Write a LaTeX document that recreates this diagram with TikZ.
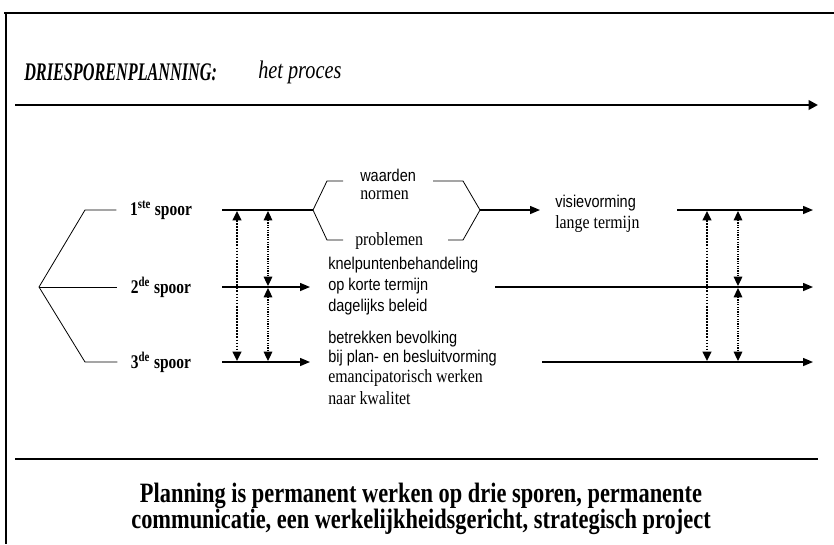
\documentclass[tikz,border=0pt]{standalone}
\usepackage{fontspec}
\setmainfont{Liberation Serif}
\newfontfamily\sansfont[FakeStretch=0.85]{Liberation Sans}
\newfontfamily\condfont[FakeStretch=0.8]{Liberation Serif}
\newfontfamily\narrowfont[FakeStretch=0.85]{Liberation Serif}
\newfontfamily\titlefont[FakeStretch=0.64]{Liberation Serif}
\usetikzlibrary{arrows.meta,positioning,calc}

\tikzset{
    titletext/.style={font=\titlefont\bfseries\itshape\fontsize{19}{22}\selectfont, inner sep=0pt, anchor=west},
    subtitle/.style={font=\condfont\itshape\fontsize{19}{22}\selectfont, inner sep=0pt, anchor=west},
    spoorlabel/.style={font=\condfont\bfseries\fontsize{14.5}{16}\selectfont, inner xsep=10pt, inner ysep=0pt},
    sanstext/.style={font=\sansfont\fontsize{12.8}{15}\selectfont, inner sep=0pt, anchor=west},
    seriftext/.style={font=\narrowfont\fontsize{14}{16}\selectfont, inner sep=0pt, anchor=west},
    summary/.style={font=\condfont\bfseries\fontsize{21}{20}\selectfont, align=center, inner sep=0pt},
    track/.style={line width=1.1pt},
    trackarrow/.style={track, -{Triangle[length=7.5pt,width=6pt]}},
    thinline/.style={line width=0.6pt},
    linkthick/.style={line width=1.3pt, densely dotted, {Triangle[length=7pt,width=6.5pt]}-{Triangle[length=7pt,width=6.5pt]}},
    linkthin/.style={line width=0.8pt, densely dotted, {Triangle[length=7pt,width=6.5pt]}-{Triangle[length=7pt,width=6.5pt]}}
}

\begin{document}
\begin{tikzpicture}[x=0.75pt, y=-0.75pt]
    \useasboundingbox (0,0) rectangle (834,544);

    % Frame
    \draw[line width=2.2pt] (4,13) -- (834,13);
    \draw[line width=1.4pt] (6,13) -- (6,544);

    % Title and time line
    \node[titletext] (title) at (24,72) {DRIESPORENPLANNING:};
    \node[subtitle] (proces) at (258,72) {het proces};
    \coordinate (tstart) at (15,105);
    \coordinate (tend) at (818,105);
    \draw[line width=1.8pt, -{Triangle[length=7pt,width=7pt]}] (tstart) -- (tend);

    % Three tracks
    \coordinate (apex) at (39,287);
    \node[spoorlabel] (s1) at (161,210) {1\textsuperscript{ste} spoor};
    \node[spoorlabel] (s2) at (161,287) {2\textsuperscript{de} spoor};
    \node[spoorlabel] (s3) at (161,362) {3\textsuperscript{de} spoor};
    \draw[thinline] (apex) -- (85,210) -- (s1.west);
    \draw[thinline] (apex) -- (s2.west);
    \draw[thinline] (apex) -- (85,362) -- (s3.west);

    \coordinate (t1a) at (222,210);
    \coordinate (t2a) at (222,287);
    \coordinate (t3a) at (222,362);
    \coordinate (t2b) at (310,287);
    \coordinate (t3b) at (310,362);

    % Track 1: values, norms, problems
    \coordinate (bl) at (313,210);
    \coordinate (br) at (480,210);
    \node[sanstext] (waarden) at (360,175) {waarden};
    \node[seriftext] (normen) at (360,195) {normen};
    \node[seriftext] (problemen) at (355,241) {problemen};
    \draw[track] (t1a) -- (bl);
    \draw[thinline] (343,181) -- (327,181) -- (bl) -- (327,240) -- (343,240);
    \draw[thinline] (433,181) -- (463,181) -- (br) -- (463,240) -- (448,240);
    \coordinate (visiein) at (540,210);
    \draw[trackarrow] (br) -- (visiein);
    \node[sanstext] (visie) at (555,203) {visievorming};
    \node[seriftext] (lange) at (555,224) {lange termijn};

    % Track 2 and 3 texts
    \node[sanstext] (knel) at (328,265) {knelpuntenbehandeling};
    \node[sanstext] (korte) at (328,286) {op korte termijn};
    \node[sanstext] (dagelijks) at (328,307) {dagelijks beleid};
    \node[sanstext] (betrekken) at (328,339) {betrekken bevolking};
    \node[sanstext] (plan) at (328,358) {bij plan- en besluitvorming};
    \node[seriftext] (eman) at (328,378) {emancipatorisch werken};
    \node[seriftext] (kwal) at (328,398) {naar kwalitet};

    \draw[trackarrow] (t2a) -- (t2b);
    \draw[trackarrow] (t3a) -- (t3b);

    % Right part of the tracks
    \coordinate (r1a) at (677,210);
    \coordinate (r2a) at (495,287);
    \coordinate (r3a) at (542,362);
    \coordinate (r1b) at (813,210);
    \coordinate (r2b) at (813,287);
    \coordinate (r3b) at (813,362);
    \draw[trackarrow] (r1a) -- (r1b);
    \draw[trackarrow] (r2a) -- (r2b);
    \draw[trackarrow] (r3a) -- (r3b);

    % Links between the tracks
    \foreach \xa/\xb in {237/268, 707/738} {
        \draw[linkthick] (\xa,211) -- (\xa,361);
        \draw[linkthin] (\xb,211) -- (\xb,286);
        \draw[linkthin] (\xb,288) -- (\xb,361);
    }

    % Conclusion
    \coordinate (cstart) at (15,459);
    \coordinate (cend) at (818,459);
    \draw[line width=2.2pt] (cstart) -- (cend);
    \node[summary] (concl) at (421,509) {Planning is permanent werken op drie sporen, permanente\\communicatie, een werkelijkheidsgericht, strategisch project};
\end{tikzpicture}
\end{document}
